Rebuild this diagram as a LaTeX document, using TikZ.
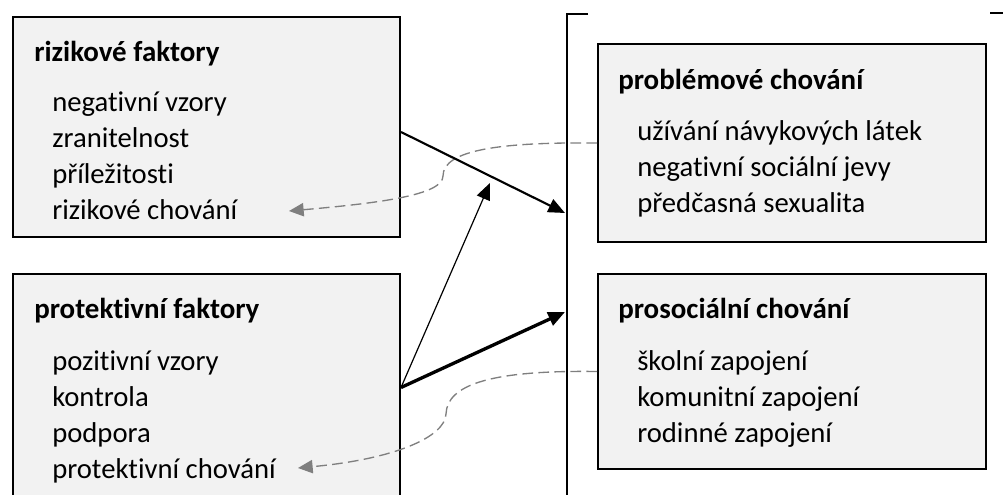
\documentclass[tikz,border=0pt]{standalone}
\usepackage{fontspec}
\setmainfont{Carlito}[RawFeature={-liga;-clig}]
\usetikzlibrary{arrows.meta,calc}
\definecolor{boxfill}{HTML}{F2F2F2}
\definecolor{linkgray}{HTML}{7F7F7F}
\tikzset{
  panel/.style={draw=black, line width=1.5pt, fill=boxfill, anchor=north west, inner sep=0pt},
  heading/.style={font=\fontsize{21.7}{27}\selectfont\bfseries, anchor=base west, inner sep=0pt},
  item/.style={font=\fontsize{21.5}{27}\selectfont, anchor=base west, inner sep=0pt},
  link/.style={draw=black, -{Triangle[length=12.5pt,width=10.5pt]}},
  feedback/.style={draw=linkgray, line width=1pt, dash pattern=on 8pt off 4pt,
    -{Triangle[length=11pt,width=10pt]}},
  bracket/.style={draw=black, line width=1.5pt},
}
\begin{document}
\begin{tikzpicture}[x=0.75pt,y=-0.75pt]
\useasboundingbox (0,0) rectangle (1003,495);
\clip (0,0) rectangle (1003,495);

% panels
\node[panel, minimum width=290.25pt, minimum height=165pt]   (rf) at (12,16)  {};
\node[panel, minimum width=290.25pt, minimum height=177.75pt] (pf) at (12,273) {};
\node[panel, minimum width=291pt,    minimum height=148.5pt]  (pc) at (597,43) {};
\node[panel, minimum width=291pt,    minimum height=146.25pt] (ps) at (597,273) {};

% panel texts
\node[heading] (rf-h) at (34,62) {rizikové faktory};
\foreach \t [count=\i] in {negativní vzory, zranitelnost, příležitosti, rizikové chování}
  \node[item] (rf-\i) at (52,{112+36*(\i-1)}) {\t};

\node[heading] (pf-h) at (34,319) {protektivní faktory};
\foreach \t [count=\i] in {pozitivní vzory, kontrola, podpora, protektivní chování}
  \node[item] (pf-\i) at (52,{370+36*(\i-1)}) {\t};

\node[heading] (pc-h) at (618,90) {problémové chování};
\foreach \t [count=\i] in {užívání návykových látek, negativní sociální jevy, předčasná sexualita}
  \node[item] (pc-\i) at (637,{141+36*(\i-1)}) {\t};

\node[heading] (ps-h) at (618,319) {prosociální chování};
\foreach \t [count=\i] in {školní zapojení, komunitní zapojení, rodinné zapojení}
  \node[item] (ps-\i) at (637,{370+36*(\i-1)}) {\t};

% feedback from behaviour back to the factors
\coordinate (e1) at (289,211);
\draw[feedback] (pc.west) .. controls (500,142) and (443,150) .. (443,176)
  .. controls (443,195) and (380,203) .. (e1);
\coordinate (e2) at (298,468);
\draw[feedback] (ps.west) .. controls (490,370) and (447,385) .. (446,414)
  .. controls (445,437) and (395,459) .. (e2);

% bracket around the outcomes
\coordinate (bt) at (567,14);
\coordinate (bb) at (567,510);
\draw[bracket] (588,14) -- (bt) -- (bb);
\coordinate (rt) at (990,13);
\coordinate (rtend) at (1010,13);
\draw[bracket] (rt) -- (rtend);

% influences
\coordinate (t1) at (565,213);
\coordinate (t2) at (490,183);
\coordinate (t3) at (565,312);
\draw[link, line width=1.6pt] ($(rf.east)+(0,5)$) -- (t1);
\draw[link, line width=0.9pt] ($(pf.east)+(0,-5)$) -- (t2);
\draw[link, line width=2.5pt] ($(pf.east)+(0,-5)$) -- (t3);
\end{tikzpicture}
\end{document}
